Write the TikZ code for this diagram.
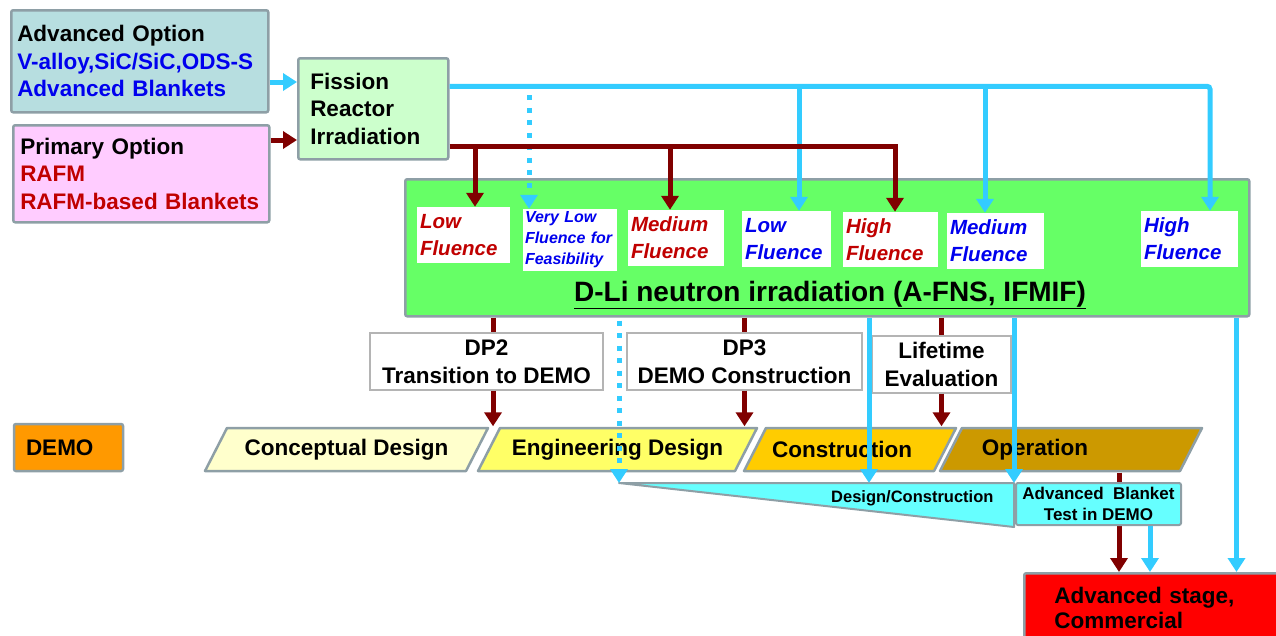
\documentclass[tikz,border=0pt]{standalone}
\usepackage{fontspec}
\setmainfont{Liberation Sans}
\usetikzlibrary{arrows.meta,positioning}

\definecolor{advbg}{HTML}{B7DEE0}
\definecolor{primbg}{HTML}{FFCCFF}
\definecolor{fisbg}{HTML}{CCFFCC}
\definecolor{dlibg}{HTML}{66FF66}
\definecolor{edge}{HTML}{8E9FA6}
\definecolor{thinedge}{HTML}{B4B4B4}
\definecolor{optblue}{HTML}{0000EE}
\definecolor{optred}{HTML}{C00000}
\definecolor{flow}{HTML}{33CCFF}
\definecolor{dred}{HTML}{800000}
\definecolor{cdbg}{HTML}{FFFFCC}
\definecolor{edbg}{HTML}{FFFF66}
\definecolor{cobg}{HTML}{FFCC00}
\definecolor{opbg}{HTML}{CC9900}
\definecolor{demobg}{HTML}{FF9900}
\definecolor{testbg}{HTML}{66FFFF}
\definecolor{stagebg}{HTML}{FF0000}

\newcommand{\bigfs}{\fontsize{22.5}{27.5}\selectfont}

\begin{document}
\begin{tikzpicture}[x=1pt,y=-1pt,font=\bigfs\bfseries,
  cy/.style={draw=flow,line width=5pt},
  rd/.style={draw=dred,line width=5pt},
  cydot/.style={draw=flow,line width=5pt,dash pattern=on 5pt off 7.5pt},
  tip/.style={-{Triangle[width=17pt,length=14pt]}},
  phase/.style={minimum height=46pt,inner sep=0pt,
    path picture={\draw[draw=edge,line width=2.5pt,fill=#1,line join=round]
      ([xshift=23.5pt,yshift=-1.5pt]path picture bounding box.north west) --
      ([xshift=-1.5pt,yshift=-1.5pt]path picture bounding box.north east) --
      ([xshift=-23.5pt,yshift=1.5pt]path picture bounding box.south east) --
      ([xshift=1.5pt,yshift=1.5pt]path picture bounding box.south west) -- cycle;}}]
			\tikzstyle{box}=[draw=edge,line width=2.5pt,rounded corners=2pt,inner xsep=6pt,align=left]
			\tikzstyle{fluence}=[fill=white,inner xsep=3pt,inner ysep=0pt,align=left,font=\fontsize{20.5}{27}\selectfont\bfseries\itshape]
			\tikzstyle{dpbox}=[draw=thinedge,fill=white,line width=1.2pt,align=center]
			\useasboundingbox (0,0) rectangle (1276,635);

			\node[box,fill=advbg,minimum width=257pt,minimum height=102pt,text width=245pt,anchor=north west]  (adv)  at (10,9)   {Advanced Option\\\textcolor{optblue}{V-alloy,SiC/SiC,ODS-S}\\\textcolor{optblue}{Advanced Blankets}};
			\node[box,fill=primbg,minimum width=256pt,minimum height=97pt,text width=242pt,inner xsep=7pt,anchor=north west] (prim) at (12,124) {Primary Option\\\textcolor{optred}{RAFM}\\\textcolor{optred}{RAFM-based Blankets}};
			\node[box,fill=fisbg,minimum width=150pt,minimum height=101pt,text width=126pt,inner xsep=12pt,anchor=north west] (fis) at (297,57) {Fission\\Reactor\\Irradiation};

			\node[box,fill=dlibg,minimum width=844pt,minimum height=137pt,anchor=north west] (dli) at (404,178) {};
			\node[fluence,text=optred,minimum width=93pt,minimum height=56pt,text width=87pt]  (lfr) at (463.5,235) {Low\\Fluence};
			\node[fluence,text=optblue,minimum width=94pt,minimum height=62pt,text width=90pt,inner xsep=2pt,font=\fontsize{16}{21}\selectfont\bfseries\itshape] (vlf) at (570,240) {Very Low\\Fluence for\\Feasibility};
			\node[fluence,text=optred,minimum width=96pt,minimum height=56pt,text width=90pt]  (mfr) at (676,238) {Medium\\Fluence};
			\node[fluence,text=optblue,minimum width=89pt,minimum height=56pt,text width=83pt] (lfb) at (786.5,239) {Low\\Fluence};
			\node[fluence,text=optred,minimum width=95pt,minimum height=55pt,text width=89pt]  (hfr) at (890.5,239.5) {High\\Fluence};
			\node[fluence,text=optblue,minimum width=97pt,minimum height=56pt,text width=91pt] (mfb) at (995.5,241) {Medium\\Fluence};
			\node[fluence,text=optblue,minimum width=97pt,minimum height=56pt,text width=91pt] (hfb) at (1189.5,239) {High\\Fluence};
			\node[font=\fontsize{28}{34}\selectfont\bfseries,anchor=base] (dlit) at (830,301) {\underline{D-Li neutron irradiation (A-FNS, IFMIF)}};

			\draw[cy,tip] (adv.east |- 0,82) -- (fis.west |- 0,82);
			\draw[rd,tip] (prim.east |- 0,140) -- (fis.west |- 0,140);

			\coordinate (cyrow) at ([yshift=22.5pt]fis.east);
			\coordinate (rdrow) at ([yshift=-37.5pt]fis.east);
			\draw[cy,tip,rounded corners=3pt] (cyrow) -| ([xshift=20.5pt]hfb.north);
			\draw[cy,tip] ([xshift=12.5pt]lfb.north |- cyrow) -- ([xshift=12.5pt]lfb.north);
			\draw[cy,tip] ([xshift=-10.5pt]mfb.north |- cyrow) -- ([xshift=-10.5pt]mfb.north);
			\draw[cydot,tip] ([xshift=-41pt]vlf.north |- cyrow) ++(0,9) -- ([xshift=-41pt]vlf.north);
			\draw[rd,tip] (rdrow) -| ([xshift=4.5pt]hfr.north);
			\draw[rd,tip] ([xshift=11.5pt]lfr.north |- rdrow) -- ([xshift=11.5pt]lfr.north);
			\draw[rd,tip] ([xshift=-6pt]mfr.north |- rdrow) -- ([xshift=-6pt]mfr.north);

			\node[dpbox,minimum width=233pt,minimum height=57pt] (dp2)  at (486.5,361.5) {DP2\\Transition to DEMO};
			\node[dpbox,minimum width=235pt,minimum height=57pt] (dp3)  at (744.5,361.5) {DP3\\DEMO Construction};
			\node[dpbox,minimum width=139pt,minimum height=57pt] (life) at (941.5,364.5) {Lifetime\\Evaluation};

			\node[box,fill=demobg,minimum width=109pt,minimum height=47pt,text width=85pt,inner xsep=12pt] (demo) at (68.5,447.5) {DEMO};
			\node[phase=cdbg,minimum width=286pt] (cd) at (346.5,449.5) {Conceptual Design};
			\node[phase=edbg,minimum width=282pt] (ed) at (617.5,449.5) {Engineering Design};
			\node[phase=cobg,minimum width=215pt,label={[xshift=-8pt]center:Construction}] (co) at (850,449.5) {};
			\node[phase=opbg,minimum width=265pt,label={[xshift=-36pt]center:Operation}] (op) at (1071,449.5) {};

			\coordinate (wtip) at (619,483);
			\coordinate (wmid) at (869,483);
			\coordinate (wne)  at (1014,483);
			\coordinate (wse)  at (1014,527);
			\draw[draw=edge,line width=2pt,fill=testbg,line join=round] (wtip) -- (wne) -- (wse) -- cycle;
			\node[font=\fontsize{16.5}{20}\selectfont\bfseries,anchor=base east] (dcw) at (997,502) {Design/Construction};

			\node[box,fill=stagebg,minimum width=259pt,minimum height=69pt,text width=199pt,inner xsep=30pt,font=\fontsize{22.5}{25}\selectfont\bfseries,anchor=north west] (stage) at (1023,572) {Advanced stage,\\Commercial};
			\draw[rd,tip] ([xshift=48pt]op.south) -- ([xshift=48pt]op.south |- stage.north);
			\node[box,fill=testbg,line width=2pt,minimum width=165pt,minimum height=42pt,inner sep=1pt,align=center,font=\fontsize{17}{21}\selectfont\bfseries] (abt) at (1098.5,504) {Advanced\ \ Blanket\\Test in DEMO};

			\draw[rd] ([xshift=6.5pt]dp2.north |- dli.south) -- ([xshift=6.5pt]dp2.north);
			\draw[rd,tip] ([xshift=6.5pt]dp2.south) -- ([xshift=6.5pt]dp2.south |- ed.north);
			\draw[rd] (dp3.north |- dli.south) -- (dp3.north);
			\draw[rd,tip] (dp3.south) -- (dp3.south |- ed.north);
			\draw[rd] (life.north |- dli.south) -- (life.north);
			\draw[rd,tip] (life.south) -- (life.south |- co.north);

			\draw[cydot,tip] (wtip |- dli.south) ++(0,3) -- (wtip);
			\draw[cy,tip] (wmid |- dli.south) -- (wmid);
			\draw[cy,tip] (wne |- dli.south) -- (wne);
			\draw[cy,tip] ([xshift=-14pt]dli.south east) -- ([xshift=-14pt]dli.south east |- stage.north);
			\draw[cy,tip] ([xshift=51.5pt]abt.south) -- ([xshift=51.5pt]abt.south |- stage.north);
		\end{tikzpicture}
\end{document}
